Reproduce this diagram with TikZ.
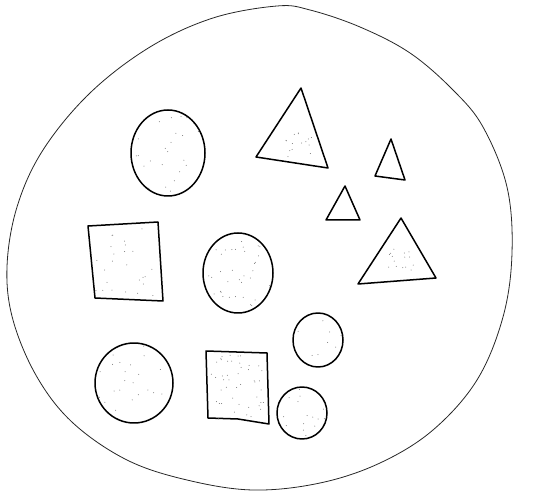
\documentclass[tikz,border=0pt]{standalone}
\usetikzlibrary{calc}

\begin{document}
\begin{tikzpicture}[x=1pt,y=-1pt,
  blob/.style={draw=black!85,line width=0.8pt,line join=round},
  outlinefig/.style={draw=black,line width=1.5pt,line join=round},
  speck/.style={fill=black!55},
]
\useasboundingbox (0,0) rectangle (541,494);
\draw[blob] plot[smooth cycle,tension=0.6] coordinates {
  (277,6) (213,18) (150,47) (90,93) (43,150) (17,207) (7,267) (13,320)
  (37,377) (73,423) (127,460) (187,480) (253,490) (320,483) (380,463)
  (433,430) (477,380) (503,317) (512,253) (507,187) (483,127) (453,90)
  (410,53) (360,27) (310,10)};
\pgfmathsetseed{7}
% circles
\foreach \cx/\cy/\rx/\ry/\n in {168/153/37/43/30, 238/273/35/40/45, 318/340/25/27/10,
    134/383/39/40/35, 302/413/25/26/20}{
  \begin{scope}
    \clip (\cx,\cy) ellipse [x radius=\rx, y radius=\ry];
    \foreach \i in {1,...,\n}
      \fill[speck] ({\cx+\rx*rand},{\cy+\ry*rand}) circle (0.5);
  \end{scope}
  \draw[outlinefig] (\cx,\cy) ellipse [x radius=\rx, y radius=\ry];
}
% squares
\draw[outlinefig] (88,226) -- (158,222) -- (163,301) -- (95,298) -- cycle;
\draw[outlinefig] (206,351) -- (267,353) -- (269,424) -- (238,419) -- (208,418) -- cycle;
\foreach \i in {1,...,25}
  \fill[speck] ({125+30*rand},{262+34*rand}) circle (0.5);
\foreach \i in {1,...,45}
  \fill[speck] ({238+27*rand},{387+32*rand}) circle (0.5);
% triangles
\draw[outlinefig] (301,88) -- (328,168) -- (256,157) -- cycle;
\draw[outlinefig] (391,139) -- (405,180) -- (375,176) -- cycle;
\draw[outlinefig] (345,186) -- (360,220) -- (326,220) -- cycle;
\draw[outlinefig] (401,218) -- (436,278) -- (358,284) -- cycle;
\foreach \i in {1,...,15}
  \fill[speck] ({300+14*rand},{145+12*rand}) circle (0.5);
\foreach \i in {1,...,15}
  \fill[speck] ({402+16*rand},{260+12*rand}) circle (0.5);
\end{tikzpicture}
\end{document}
